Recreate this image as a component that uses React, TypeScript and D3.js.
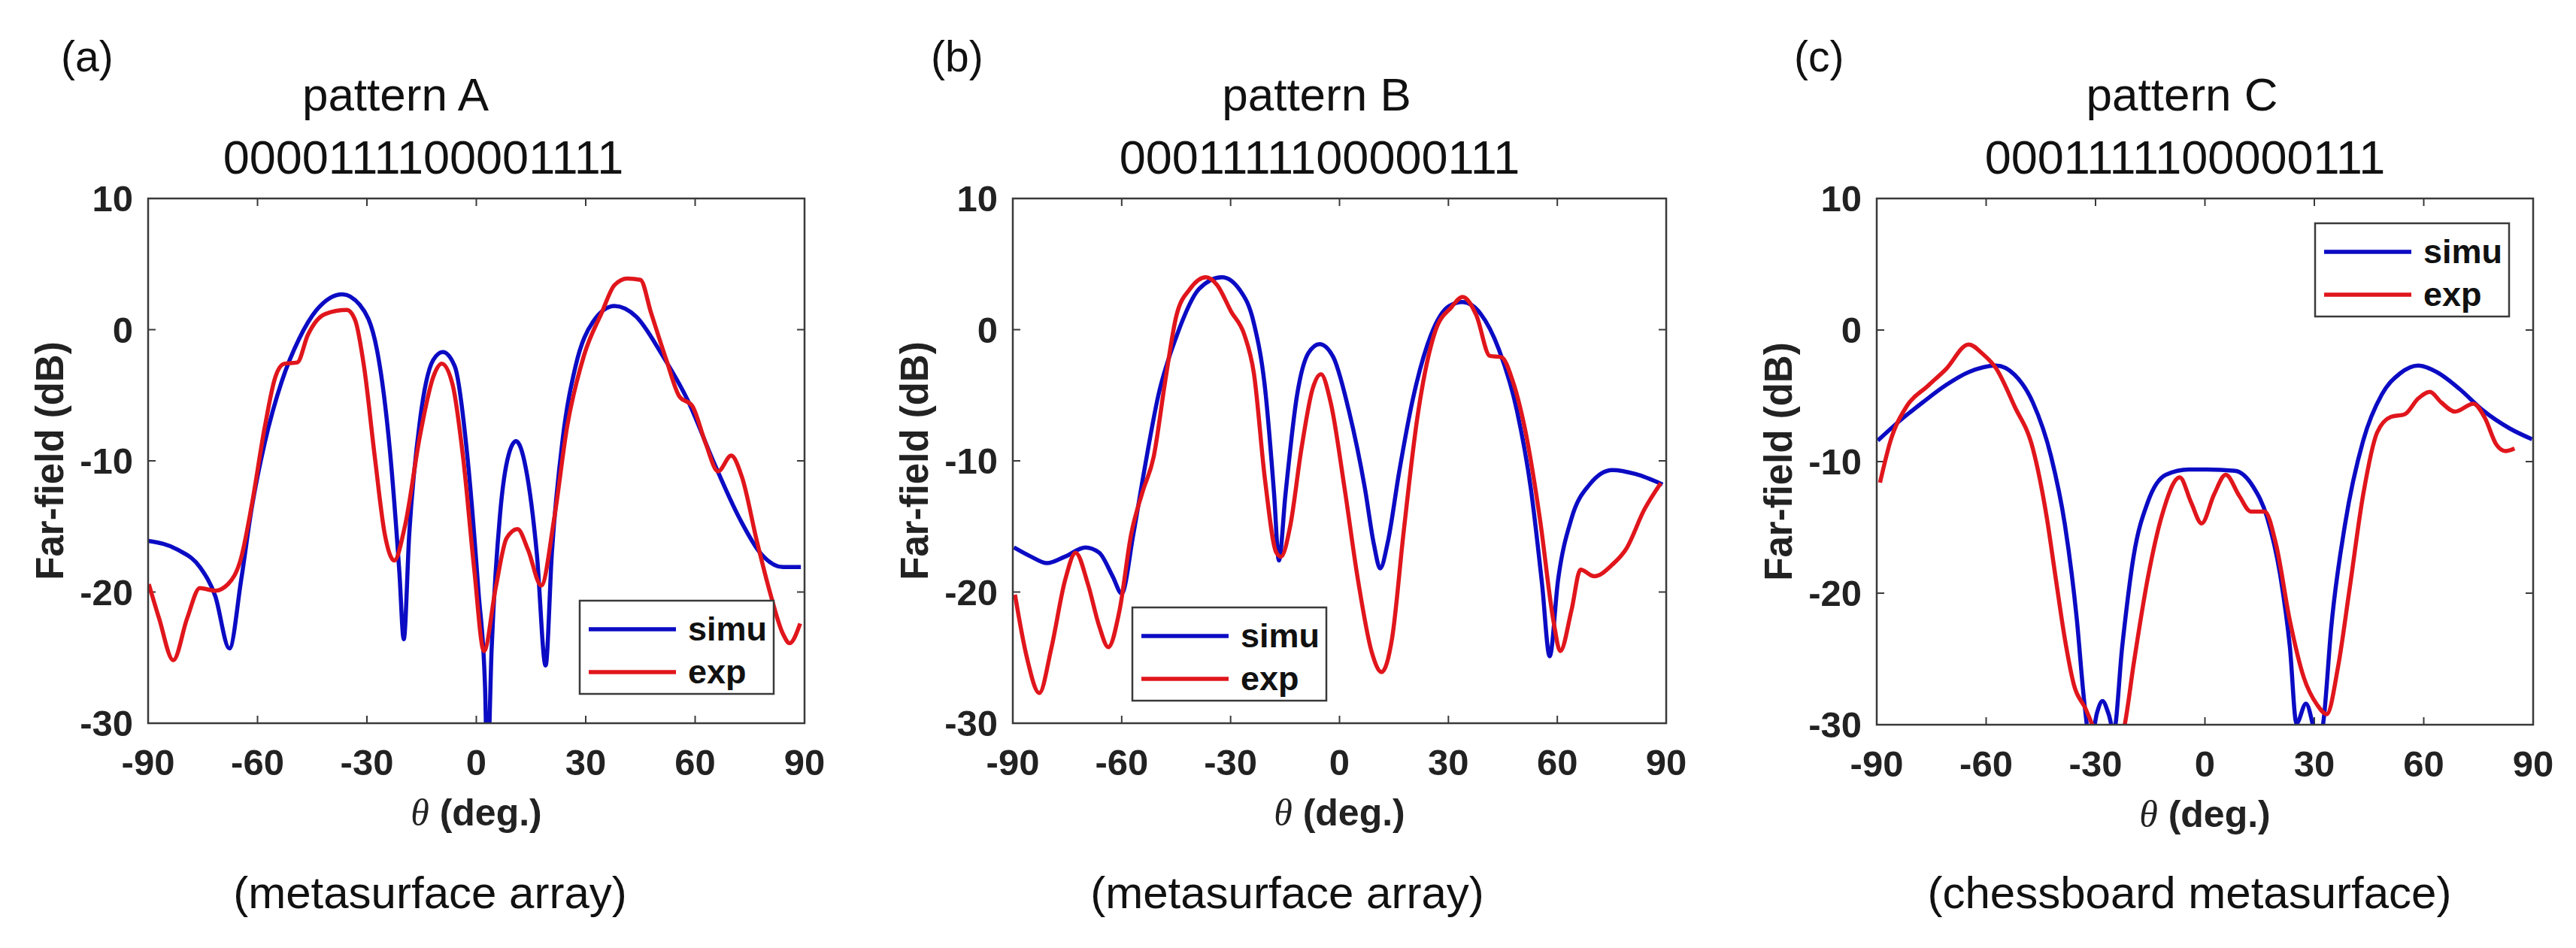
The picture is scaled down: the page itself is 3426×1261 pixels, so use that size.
import React from "react";
import * as d3 from "d3";

// far-field patterns, [theta (deg), dB]
const simuA: [number, number][] = [
  [-90, -16.1], [-81.7, -16.8], [-75.8, -18.1], [-71.6, -20.3], [-67.7, -24.3], [-64.5, -19.1],
  [-61.6, -13.6], [-58, -8.6], [-53.3, -3.9], [-48.6, -0.7], [-43.8, 1.5], [-36.7, 2.7],
  [-32, 1.9], [-27.2, -1.6], [-23.7, -9.2], [-21.1, -18.5], [-19.9, -23.6], [-18.4, -15.6],
  [-15.4, -6.8], [-11.8, -2.3], [-9.2, -1.7], [-5.9, -2.8], [-2.4, -9.8], [0.6, -20],
  [2.4, -27.3], [3, -34], [4.2, -24.3], [6.5, -14.1], [8.9, -9.5], [10.9, -8.5], [13.6, -10.6],
  [16.6, -17.1], [19, -25.6], [20.7, -17.1], [23.7, -8.3], [27.2, -2.8], [32, 0.6], [37.9, 1.8],
  [43.8, 1.0], [50.9, -1.9], [58, -5.4], [65.1, -10.1], [72.2, -14.4], [78.1, -17.1],
  [84.1, -18.1], [89, -18.1],
];
const expA: [number, number][] = [
  [-89.8, -19.4], [-87, -22], [-83.1, -25.2], [-79.3, -22], [-75.8, -19.7], [-71.6, -19.9],
  [-68.1, -19.4], [-64.5, -17.4], [-61.6, -13.4], [-58, -7.4], [-55.1, -3.6], [-52.7, -2.6],
  [-49.1, -2.5], [-46.2, -0.4], [-41.4, 1.2], [-35.5, 1.5], [-33.2, 0.7], [-30.8, -2.8],
  [-27.8, -9.8], [-25.1, -15.6], [-22.5, -17.6], [-19.6, -15], [-15.4, -8], [-11.8, -3.6],
  [-9.5, -2.6], [-6.5, -4.2], [-3.6, -9.8], [-0.6, -18.2], [2.1, -24.5], [5.3, -19.7],
  [8.3, -15.9], [11.3, -15.2], [14.2, -16.8], [17.8, -19.5], [21.3, -14.5], [24.9, -7.4],
  [29.6, -1.9], [34.4, 1.3], [37.9, 3.4], [41.4, 3.9], [45, 3.8], [47.9, 1.3], [52.1, -2.3],
  [55.7, -5.1], [59.2, -5.8], [62.8, -8.6], [66.3, -10.8], [69.9, -9.6], [72.8, -11.2],
  [77, -16.2], [80.5, -20], [84.1, -23.2], [85.9, -23.9], [88.8, -22.4],
];

const simuB: [number, number][] = [
  [-89.7, -16.6], [-85, -17.3], [-80.6, -17.8], [-75.6, -17.3], [-70, -16.6], [-66.2, -17],
  [-62.5, -18.8], [-60, -20.1], [-56.8, -15.6], [-53.7, -10.6], [-49.9, -5], [-44.9, -0.5],
  [-38.7, 3.1], [-32.4, 4.0], [-27.4, 3.0], [-23.6, 0.5], [-20.5, -4.5], [-18, -12.6],
  [-16.7, -17.6], [-14.9, -12.6], [-11.7, -5], [-8.6, -1.8], [-5.5, -1.1], [-1.7, -2.1],
  [2.6, -6.2], [7, -12.1], [9.5, -16.4], [11.2, -18.2], [13.3, -16.2], [16.4, -10.9],
  [20.2, -5.3], [25.2, -0.4], [30.2, 1.8], [33.9, 2.1], [38.9, 1.2], [43.9, -1.5], [48.9, -6.2],
  [52.7, -12.1], [55.8, -19.4], [57.9, -24.9], [60.2, -19.1], [63.9, -14.4], [68.9, -11.8],
  [75.2, -10.7], [81.5, -11], [89, -11.8],
];
const expB: [number, number][] = [
  [-89.4, -20.2], [-86.2, -24.9], [-82.7, -27.7], [-79.4, -24.3], [-75.6, -19.1], [-72.7, -17],
  [-69.3, -19.4], [-66.2, -22.6], [-63.7, -24.2], [-60.6, -21.4], [-57.4, -15.6], [-54.3, -12.4],
  [-51.2, -9.7], [-48, -3.9], [-44.9, 1.1], [-41.2, 3.1], [-36.8, 4.0], [-33.7, 3.4],
  [-29.9, 1.4], [-26.2, -0.4], [-23.6, -3.3], [-20.5, -11.5], [-17.4, -17], [-16.1, -17.3],
  [-13.6, -15], [-10.5, -9.1], [-7.4, -4.5], [-5.1, -3.4], [-2.4, -5.6], [1.4, -12.1],
  [5.1, -19.1], [8.9, -24.6], [11.6, -26.1], [14.5, -23.5], [17.6, -15.6], [21.4, -6.8],
  [26.4, -0.1], [30.8, 1.7], [33.9, 2.5], [37.7, 1.1], [41.4, -2], [44.6, -2.1], [47.7, -3.9],
  [51.4, -8], [55.2, -14.4], [59, -22.3], [60.8, -24.5], [63.9, -21.4], [66.4, -18.3],
  [70.2, -18.8], [75.2, -17.9], [79, -16.7], [84, -13.7], [88.5, -11.7],
];

const simuC: [number, number][] = [
  [-89.7, -8.4], [-83.7, -6.9], [-77.4, -5.5], [-71.1, -4.2], [-64.8, -3.2], [-57.3, -2.7],
  [-52.2, -3.4], [-47.2, -5.5], [-42.2, -9.6], [-38.4, -14.8], [-35.2, -21.8], [-33, -28.5],
  [-31.4, -31.5], [-29.6, -29.1], [-28.1, -28.2], [-26.4, -29.2], [-25, -30.5], [-22.7, -24.1],
  [-19.5, -17.1], [-15.7, -13.1], [-10.7, -11], [-4.4, -10.6], [0.6, -10.6], [8.2, -10.7],
  [13.2, -11.9], [17, -14.2], [20.8, -18.9], [23.3, -24.1], [25.1, -29.9], [27.7, -28.4],
  [29.4, -29.8], [30.8, -32], [32.6, -29.5], [34.6, -22.7], [38.4, -14.8], [43.4, -8.4],
  [48.5, -4.9], [53.5, -3.3], [58.5, -2.7], [63.6, -3.2], [69.9, -4.5], [76.2, -6.1],
  [83.7, -7.5], [89.7, -8.3],
];
const expC: [number, number][] = [
  [-89.1, -11.6], [-86.2, -8.4], [-81.8, -5.8], [-76.2, -4.3], [-71.1, -3.0], [-64.8, -1.1],
  [-61, -1.8], [-57.3, -2.9], [-52.2, -5.8], [-47.2, -9.0], [-43.4, -14.2], [-40.9, -18.9],
  [-38.4, -23.5], [-35.9, -27], [-32.7, -28.8], [-30.2, -30.5], [-27, -33], [-24, -32],
  [-22, -30], [-19.5, -25.3], [-15.7, -18.9], [-11.9, -14.2], [-6.9, -11.2], [-3.8, -13.1],
  [-0.9, -14.7], [2.5, -12.5], [5.7, -11], [9.4, -12.6], [12.6, -13.8], [16.4, -13.8],
  [19.5, -16.3], [23.3, -22.1], [27.1, -26.4], [30.8, -28.5], [33.4, -29.2], [36.5, -25.6],
  [39.6, -19.8], [43.4, -12.5], [47.2, -7.8], [51, -6.6], [54.8, -6.4], [58.5, -5.2],
  [61.7, -4.7], [64.8, -5.5], [68.6, -6.2], [73.6, -5.6], [76.8, -6.7], [79.9, -8.7],
  [82.4, -9.2], [84.9, -9.0],
];

const xTicks = [-90, -60, -30, 0, 30, 60, 90];
const yTicks = [-30, -20, -10, 0, 10];
const seriesNames = ["simu", "exp"];

const BLUE = "#0b0bc4";
const RED = "#e0161c";
const AXIS = "#3a3a3a";
const SANS = "'Liberation Sans', Arial, Helvetica, sans-serif";

const panels = [
  {
    id: "a", tag: "(a)", title: "pattern A", code: "0000111100001111", caption: "(metasurface array)",
    simu: simuA, exp: expA,
    x0: 197, x1: 1070, y0: 264, y1: 962,
    tagX: 81, titleX: 526, codeX: 563, captionX: 572, legX: 771, legY: 799,
  },
  {
    id: "b", tag: "(b)", title: "pattern B", code: "0001111100000111", caption: "(metasurface array)",
    simu: simuB, exp: expB,
    x0: 1347, x1: 2216, y0: 264, y1: 962,
    tagX: 1238, titleX: 1751, codeX: 1755, captionX: 1712, legX: 1506, legY: 808,
  },
  {
    id: "c", tag: "(c)", title: "pattern C", code: "0001111100000111", caption: "(chessboard metasurface)",
    simu: simuC, exp: expC,
    x0: 2496, x1: 3369, y0: 264, y1: 964,
    tagX: 2386, titleX: 2902, codeX: 2906, captionX: 2912, legX: 3079, legY: 297,
  },
];

const Panel = ({ p }) => {
  const x = d3.scaleLinear().domain([-90, 90]).range([p.x0, p.x1]);
  const y = d3.scaleLinear().domain([-30, 10]).range([p.y1, p.y0]);
  const line = d3
    .line<[number, number]>()
    .x((d) => x(d[0]))
    .y((d) => y(d[1]))
    .curve(d3.curveMonotoneX);
  const tickLen = 10;
  const clipId = "clip-" + p.id;
  const midX = (p.x0 + p.x1) / 2;
  const midY = (p.y0 + p.y1) / 2;

  return (
    <g>
      <defs>
        <clipPath id={clipId}>
          <rect x={p.x0} y={p.y0} width={p.x1 - p.x0} height={p.y1 - p.y0} />
        </clipPath>
      </defs>

      {/* panel tag and titles */}
      <text x={p.tagX} y={95} fontSize={57} fontFamily={SANS} fill="#111">{p.tag}</text>
      <text x={p.titleX} y={147} fontSize={62} fontFamily={SANS} textAnchor="middle" fill="#111">{p.title}</text>
      <text x={p.codeX} y={231} fontSize={63} fontFamily={SANS} textAnchor="middle" fill="#111">{p.code}</text>

      <rect x={p.x0} y={p.y0} width={p.x1 - p.x0} height={p.y1 - p.y0} fill="#fff" />

      {/* ticks, inward on all four sides */}
      {xTicks.map((t) => (
        <g key={"x" + t}>
          <line x1={x(t)} x2={x(t)} y1={p.y1} y2={p.y1 - tickLen} stroke={AXIS} strokeWidth={2} />
          <line x1={x(t)} x2={x(t)} y1={p.y0} y2={p.y0 + tickLen} stroke={AXIS} strokeWidth={2} />
          <text x={x(t)} y={p.y1 + 69} fontSize={49} fontWeight="bold" fontFamily={SANS} textAnchor="middle" fill="#222">
            {t}
          </text>
        </g>
      ))}
      {yTicks.map((t) => (
        <g key={"y" + t}>
          <line x1={p.x0} x2={p.x0 + tickLen} y1={y(t)} y2={y(t)} stroke={AXIS} strokeWidth={2} />
          <line x1={p.x1} x2={p.x1 - tickLen} y1={y(t)} y2={y(t)} stroke={AXIS} strokeWidth={2} />
          <text x={p.x0 - 20} y={y(t) + 17} fontSize={49} fontWeight="bold" fontFamily={SANS} textAnchor="end" fill="#222">
            {t}
          </text>
        </g>
      ))}

      {/* curves */}
      <g clipPath={`url(#${clipId})`}>
        <path d={line(p.simu)} fill="none" stroke={BLUE} strokeWidth={5.5} strokeLinejoin="round" />
        <path d={line(p.exp)} fill="none" stroke={RED} strokeWidth={5.5} strokeLinejoin="round" />
      </g>

      <rect x={p.x0} y={p.y0} width={p.x1 - p.x0} height={p.y1 - p.y0} fill="none" stroke={AXIS} strokeWidth={2.5} />

      {/* axis labels */}
      <text
        transform={`translate(${p.x0 - 113},${midY}) rotate(-90)`}
        fontSize={51}
        fontWeight="bold"
        fontFamily={SANS}
        textAnchor="middle"
        fill="#222"
      >
        Far-field (dB)
      </text>
      <text x={midX} y={p.y1 + 136} fontSize={50} fontFamily={SANS} fontWeight="bold" textAnchor="middle" fill="#222">
        <tspan fontFamily="'Liberation Serif', 'Times New Roman', serif" fontStyle="italic" fontWeight="normal">
          θ
        </tspan>
        {" (deg.)"}
      </text>

      {/* legend */}
      <g transform={`translate(${p.legX},${p.legY})`}>
        <rect x={0} y={0} width={258} height={124} fill="#fff" stroke={AXIS} strokeWidth={2.5} />
        {seriesNames.map((name, i) => (
          <g key={name} transform={`translate(0,${38 + i * 57})`}>
            <line x1={12} x2={128} y1={0} y2={0} stroke={i === 0 ? BLUE : RED} strokeWidth={5.5} />
            <text x={144} y={15} fontSize={45} fontWeight="bold" fontFamily={SANS} fill="#111">
              {name}
            </text>
          </g>
        ))}
      </g>

      <text x={p.captionX} y={1208} fontSize={60} fontFamily={SANS} textAnchor="middle" fill="#111">
        {p.caption}
      </text>
    </g>
  );
};

const App = () => {
  return (
    <svg
      width={3426}
      height={1261}
      style={{ position: "absolute", left: 0, top: 0, background: "#fff" }}
    >
      <rect x={0} y={0} width={3426} height={1261} fill="#fff" />
      {panels.map((p) => (
        <Panel key={p.id} p={p} />
      ))}
    </svg>
  );
};

export default App;
